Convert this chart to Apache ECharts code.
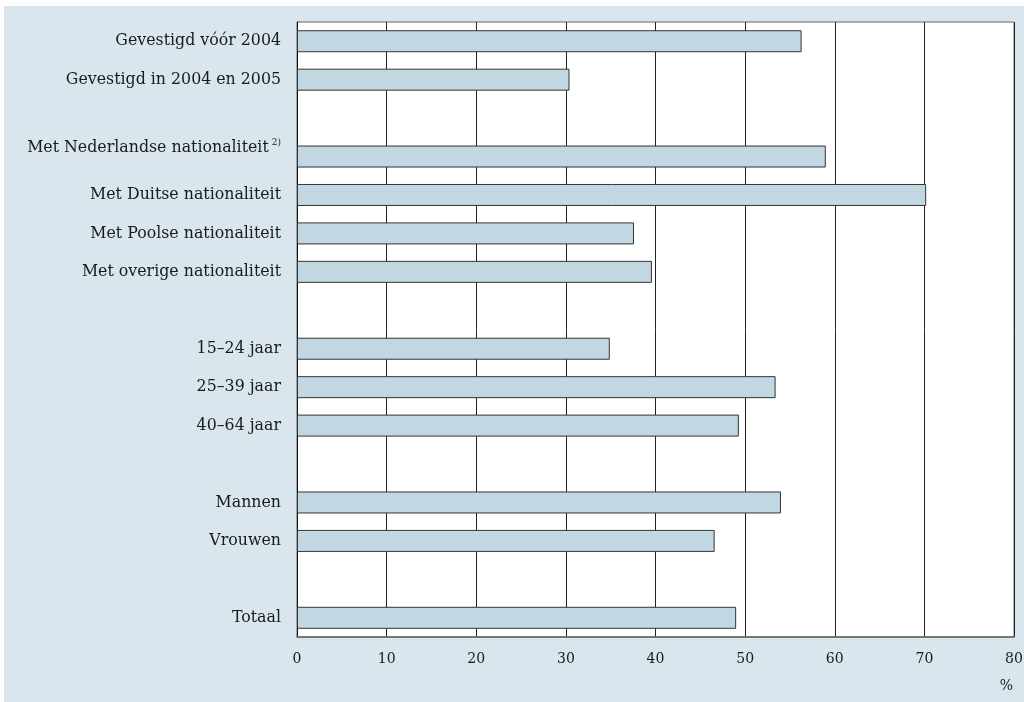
<!DOCTYPE html>
<html>
<head>
<meta charset="utf-8">
<script src="https://cdn.jsdelivr.net/npm/echarts@6/dist/echarts.min.js"></script>
<style>
html,body{margin:0;padding:0;background:#fff;}
#c{width:1024px;height:702px;}
</style>
</head>
<body>
<div id="c"></div>
<script>
var categories = [
  'Gevestigd vóór 2004',
  'Gevestigd in 2004 en 2005',
  ' ',
  'Met Nederlandse nationaliteit',
  'Met Duitse nationaliteit',
  'Met Poolse nationaliteit',
  'Met overige nationaliteit',
  '  ',
  '15–24 jaar',
  '25–39 jaar',
  '40–64 jaar',
  '   ',
  'Mannen',
  'Vrouwen',
  '    ',
  'Totaal'
];
var values = [56.3, 30.4, null, 59.0, 70.2, 37.6, 39.6, null, 34.9, 53.4, 49.3, null, 54.0, 46.6, null, 49.0];
var xTicks = [0, 10, 20, 30, 40, 50, 60, 70, 80];
var unitLabel = '%';

var chart = echarts.init(document.getElementById('c'), null, {renderer: 'canvas'});
var serif = '"DejaVu Serif", "Liberation Serif", serif';
chart.setOption({
  backgroundColor: '#ffffff',
  animation: false,
  graphic: [
    {type: 'rect', z: -10, silent: true, shape: {x: 4, y: 6, width: 1020, height: 696}, style: {fill: '#d9e6ee'}},
    {type: 'text', right: 11, top: 679, style: {text: unitLabel, font: '14px ' + serif, fill: '#1a1a1a'}}
  ],
  grid: {left: 297, right: 10, top: 22, bottom: 65, outerBoundsMode: 'none', containLabel: false, show: true, backgroundColor: '#ffffff', borderColor: '#666', borderWidth: 1},
  xAxis: {
    type: 'value', min: xTicks[0], max: xTicks[xTicks.length - 1], interval: 10,
    axisLine: {show: true, lineStyle: {color: '#666', width: 1.5}},
    axisTick: {show: false},
    axisLabel: {margin: 15, color: '#1a1a1a', fontFamily: serif, fontSize: 14},
    splitLine: {show: true, lineStyle: {color: '#222', width: 1}}
  },
  yAxis: {
    type: 'category', data: categories, inverse: true,
    axisLine: {show: true, lineStyle: {color: '#111', width: 1}},
    axisTick: {show: false},
    axisLabel: {
      margin: 16, color: '#1a1a1a', fontFamily: serif, fontSize: 15.8,
      formatter: function (v) {
        if (v === 'Met Nederlandse nationaliteit') return '{up|' + v + '}{sup|2)}';
        return v;
      },
      rich: {
        up: {fontFamily: serif, fontSize: 15.8, color: '#1a1a1a', padding: [0, 0, 18, 0]},
        sup: {fontFamily: serif, fontSize: 9, color: '#1a1a1a', padding: [0, 0, 28, 3]}
      }
    },
    splitLine: {show: false}
  },
  series: [{
    type: 'bar', data: values, barWidth: 22,
    itemStyle: {color: '#c1d8e3', borderColor: '#333', borderWidth: 1}
  }]
});
</script>
</body>
</html>
